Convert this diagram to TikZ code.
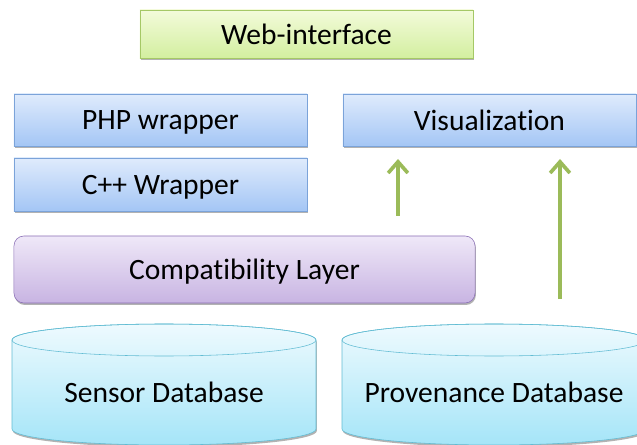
\documentclass[tikz,border=0pt]{standalone}
\usepackage{fontspec}
\setmainfont[Ligatures=NoCommon]{Carlito}
\usetikzlibrary{arrows.meta,shadows}
\definecolor{blueline}{HTML}{7BA3D9}
\definecolor{bluetop}{HTML}{DFEBFC}
\definecolor{bluebot}{HTML}{A4C6F5}
\definecolor{greenline}{HTML}{A5C866}
\definecolor{greentop}{HTML}{F3FBDA}
\definecolor{greenbot}{HTML}{D3EFA0}
\definecolor{purpline}{HTML}{8B70B6}
\definecolor{purptop}{HTML}{EFE8F8}
\definecolor{purpbot}{HTML}{C8B4E2}
\definecolor{cyanline}{HTML}{62BCD3}
\definecolor{cyantop}{HTML}{EEFAFE}
\definecolor{cyanbot}{HTML}{A5E5F8}
\definecolor{arrowgreen}{HTML}{9BBB59}

\begin{document}
\begin{tikzpicture}[x=0.025cm, y=-0.025cm,
    every node/.style={font=\fontsize{21}{25}\selectfont, text depth=0pt},
    shade/.style={drop shadow={shadow xshift=0.6pt, shadow yshift=-1.4pt, opacity=0.3, fill=black}},
    bluebox/.style={draw=blueline, top color=bluetop, bottom color=bluebot, shade,
        minimum width=7.325cm, minimum height=1.3cm, inner sep=0pt},
    greenbox/.style={draw=greenline, top color=greentop, bottom color=greenbot, shade,
        minimum width=8.325cm, minimum height=1.2cm, inner sep=0pt},
    layerbox/.style={draw=purpline, top color=purptop, bottom color=purpbot, shade,
        rounded corners=0.25cm, minimum width=11.525cm, minimum height=1.675cm, inner sep=0pt},
    dbshape/.style={draw=cyanline, top color=cyantop, bottom color=cyanbot, shade},
    uparrow/.style={draw=arrowgreen, line width=2.6pt, -{Straight Barb[length=8pt,width=14pt]}}]
    \useasboundingbox (0,0) rectangle (637,445);

    % boxes
    \node[greenbox] (web) at (306.5,34) {Web-interface};
    \node[bluebox] (php) at (160.5,120) {PHP wrapper};
    \node[bluebox, minimum height=1.325cm] (cpp) at (160.5,184.5) {C++ Wrapper};
    \node[bluebox] (vis) at (489.5,120) {Visualization};
    \node[layerbox] (compat) at (244.5,269.5) {Compatibility Layer};

    % databases
    \draw[dbshape] (12,340) -- (12,429) arc (180:0:152 and 16) -- (316,340) arc (0:-180:152 and 16) -- cycle;
    \draw[cyanline] (164,340) ellipse (152 and 16);
    \node (sensor) at (164,392) {Sensor Database};
    \draw[dbshape] (342,340) -- (342,429) arc (180:0:152 and 16) -- (646,340) arc (0:-180:152 and 16) -- cycle;
    \draw[cyanline] (494,340) ellipse (152 and 16);
    \node (prov) at (494,392) {Provenance Database};

    % arrows
    \coordinate (ltail) at (398,216);
    \coordinate (lhead) at (398,159);
    \coordinate (rtail) at (560,299);
    \coordinate (rhead) at (560,159);
    \draw[uparrow] (ltail) -- (lhead);
    \draw[uparrow] (rtail) -- (rhead);
\end{tikzpicture}
\end{document}
